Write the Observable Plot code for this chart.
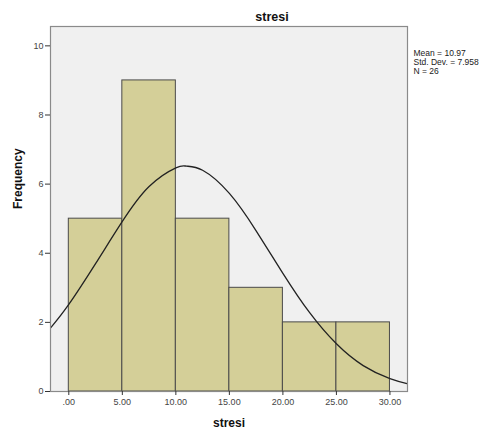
<!DOCTYPE html>
<html>
<head>
<meta charset="utf-8">
<script src="https://cdn.jsdelivr.net/npm/d3@7"></script>
<script src="https://cdn.jsdelivr.net/npm/@observablehq/plot@0.6"></script>
<style>
  html, body { margin: 0; padding: 0; background: #ffffff; }
  #chart svg { display: block; }
</style>
</head>
<body>
<div id="chart"></div>
<script>
const binLower = [0, 5, 10, 15, 20, 25];
const binUpper = [5, 10, 15, 20, 25, 30];
const frequencies = [5, 9, 5, 3, 2, 2];

const curveX = [-1.7, 0, 2.5, 5, 7.5, 10, 11, 12.5, 15, 17.5, 20, 22.5, 25, 27.5, 30, 31.6];
const curveY = [1.84, 2.52, 3.70, 4.92, 5.93, 6.47, 6.52, 6.40, 5.73, 4.65, 3.42, 2.28, 1.38, 0.75, 0.37, 0.23];

const xTicks = [0, 5, 10, 15, 20, 25, 30];
const xTickLabels = [".00", "5.00", "10.00", "15.00", "20.00", "25.00", "30.00"];
const yTicks = [0, 2, 4, 6, 8, 10];

const titleText = "stresi";
const xLabel = "stresi";
const yLabel = "Frequency";
const statsText = "Mean = 10.97\nStd. Dev. = 7.958\nN = 26";

const bins = binLower.map((lo, i) => ({x1: lo, x2: binUpper[i], y: frequencies[i]}));
const curve = curveX.map((x, i) => ({x, y: curveY[i]}));

const chart = Plot.plot({
  width: 491,
  height: 430,
  marginLeft: 50,
  marginRight: 84,
  marginTop: 26,
  marginBottom: 39,
  style: {fontFamily: "Liberation Sans, Arial, sans-serif", background: "#ffffff"},
  x: {domain: [-1.71, 31.64]},
  y: {domain: [0, 10.56]},
  marks: [
    Plot.frame({fill: "#f0f0f0", stroke: "none"}),
    Plot.rectY(bins, {x1: "x1", x2: "x2", y: "y", fill: "#d4cf98", stroke: "#4a4a4a", strokeWidth: 1}),
    Plot.line(curve, {x: "x", y: "y", curve: "natural", stroke: "#222222", strokeWidth: 1.3}),
    Plot.frame({stroke: "#8a8a8a", strokeWidth: 1.2}),
    Plot.axisX({ticks: xTicks, tickFormat: (d) => xTickLabels[xTicks.indexOf(d)], tickSize: 4, tickPadding: 3, fontSize: 9, color: "#444", label: null, stroke: "#333"}),
    Plot.axisY({ticks: yTicks, tickSize: 5, tickPadding: 2, fontSize: 9, color: "#444", label: null, stroke: "#333"}),
    Plot.text([titleText], {text: (d) => d, frameAnchor: "top", dx: 43, dy: -14, fontSize: 12.5, fontWeight: "bold", fill: "#111"}),
    Plot.text([xLabel], {text: (d) => d, frameAnchor: "bottom", dy: 35, fontSize: 12, fontWeight: "bold", fill: "#111"}),
    Plot.text([yLabel], {text: (d) => d, frameAnchor: "left", dx: -32, rotate: -90, fontSize: 12, fontWeight: "bold", fill: "#111"}),
    Plot.text([statsText], {text: (d) => d, frameAnchor: "top-right", dx: 6, dy: 23, textAnchor: "start", lineAnchor: "top", lineHeight: 1.05, fontSize: 8.5, fill: "#222"})
  ]
});
document.getElementById("chart").appendChild(chart);
</script>
</body>
</html>
